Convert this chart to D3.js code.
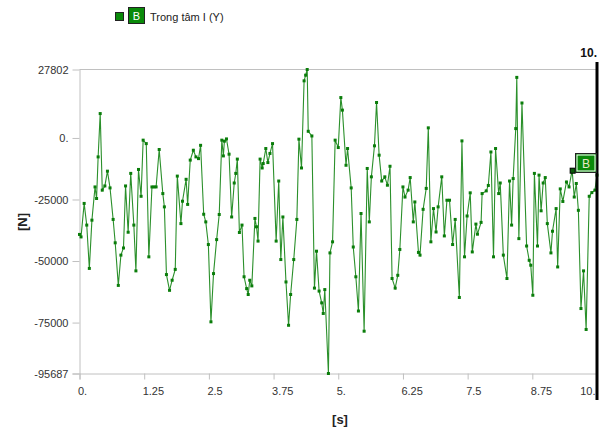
<!DOCTYPE html>
<html>
<head>
<meta charset="utf-8">
<script src="https://cdn.jsdelivr.net/npm/d3@7"></script>
<style>
body { margin: 0; background: #fff; }
svg text { font-family: "Liberation Sans", Arial, sans-serif; }
</style>
</head>
<body>
<div id="chart"></div>
<script>
// Data (time in s, force in N)
var times = [0.00,0.03,0.09,0.14,0.19,0.24,0.30,0.33,0.36,0.40,0.44,0.49,0.54,0.59,0.65,0.69,0.75,0.80,0.85,0.89,
  0.94,0.99,1.05,1.09,1.14,1.19,1.23,1.29,1.34,1.40,1.44,1.48,1.54,1.61,1.64,1.68,1.74,1.79,1.85,1.89,
  1.96,1.99,2.06,2.09,2.14,2.20,2.25,2.30,2.34,2.40,2.44,2.49,2.54,2.59,2.65,2.70,2.75,2.78,2.80,2.84,
  2.89,2.94,2.99,3.02,3.05,3.09,3.14,3.18,3.23,3.26,3.29,3.33,3.39,3.42,3.45,3.49,3.53,3.55,3.60,3.64,
  3.68,3.73,3.80,3.85,3.89,3.93,3.99,4.04,4.08,4.14,4.20,4.24,4.29,4.34,4.37,4.40,4.42,4.49,4.54,4.58,
  4.63,4.68,4.71,4.74,4.81,4.84,4.89,4.94,5.00,5.05,5.08,5.15,5.18,5.25,5.29,5.34,5.39,5.44,5.50,5.56,
  5.60,5.64,5.70,5.74,5.79,5.84,5.90,5.95,6.00,6.04,6.10,6.15,6.19,6.25,6.29,6.35,6.39,6.45,6.48,6.55,
  6.58,6.64,6.70,6.74,6.79,6.84,6.89,6.93,7.00,7.05,7.10,7.15,7.21,7.26,7.34,7.39,7.44,7.49,7.55,7.59,
  7.66,7.69,7.76,7.78,7.86,7.90,7.95,8.00,8.04,8.10,8.13,8.19,8.26,8.31,8.35,8.38,8.43,8.45,8.49,8.55,
  8.64,8.69,8.72,8.76,8.79,8.85,8.88,8.92,8.96,9.00,9.04,9.11,9.14,9.21,9.24,9.29,9.34,9.41,9.46,9.52,
  9.56,9.60,9.64,9.69,9.74,9.79,9.85,9.90,9.96,10.00];

var forces = [-39200,-40200,-26600,-35400,-53000,-33400,-19900,-24600,-7700,9900,-21200,-19500,-13500,-20300,-33100,-42600,-59900,-47600,-44700,-19500,
  -38300,-14400,-35400,-54000,-12800,-23700,-900,-2300,-48300,-19900,-19900,-19900,-4700,-22600,-28000,-55500,-61900,-57800,-53400,-15500,
  -34800,-25700,-16800,-27000,-9000,-5000,-7700,-8400,-3000,-31000,-34100,-43300,-74700,-55100,-41300,-31100,-900,-7300,-1300,-400,
  -6600,-32100,-18300,-14400,-8600,-38400,-35400,-56400,-61200,-63600,-57800,-60100,-32700,-36100,-41900,-8600,-12200,-10400,-4300,-10000,
  -6300,-2300,-41900,-17500,-49400,-32100,-58500,-76100,-63600,-49400,-33100,-500,-12200,23200,25500,27802,2700,800,-61000,-46000,
  -62200,-67000,-71300,-61600,-95687,-46700,-42200,-900,-3900,16400,11300,-11100,-4300,-20300,-44300,-56400,-70300,-30700,-78500,-12400,
  -34100,-15800,-3200,14400,-7000,-17500,-15800,-19200,-11500,-57100,-61000,-55800,-45300,-19900,-24000,-21200,-16100,-34100,-26000,-46500,
  -47600,-29000,-20500,4100,-42200,-28700,-38200,-28000,-15800,-39800,-25300,-25300,-43300,-33100,-64800,-1200,-48300,-31700,-22300,-46300,
  -35000,-39100,-34300,-22600,-21500,-19300,-5700,-48300,-4300,-22600,-18300,-47600,-57100,-17500,-35400,-16500,3800,24600,-40900,14200,
  -43900,-49700,-51700,-63900,-14400,-43900,-15100,-29600,-18300,-16100,-34800,-46700,-37900,-28700,-52400,-20700,-25800,-17900,-19900,-13100,
  -24000,-18500,-29400,-69300,-54000,-77800,-23700,-22200,-21200,-15100];

var xTicks = [0, 1.25, 2.5, 3.75, 5, 6.25, 7.5, 8.75, 10];
var xTickLabels = ["0.", "1.25", "2.5", "3.75", "5.", "6.25", "7.5", "8.75", "10."];
var yTicks = [27802, 0, -25000, -50000, -75000, -95687];
var yTickLabels = ["27802", "0.", "-25000", "-50000", "-75000", "-95687"];
var seriesName = "Trong tâm I (Y)";
var cursorTime = 10;
var markerIndex = 199;

var W = 603, H = 434;
var pLeft = 79.5, pRight = 597, pTop = 69.5, pBottom = 373.5;

var svg = d3.select("#chart").append("svg")
  .attr("width", W).attr("height", H);

var x = d3.scaleLinear().domain([0, 10]).range([pLeft, pRight]);
var y = d3.scaleLinear().domain([-95687, 27802]).range([pBottom, pTop]);

// top border line
svg.append("line")
  .attr("x1", pLeft).attr("x2", pRight)
  .attr("y1", pTop).attr("y2", pTop)
  .attr("stroke", "#c0c0c0").attr("stroke-width", 1);

// y axis
var yAxis = d3.axisLeft(y).tickValues(yTicks)
  .tickFormat(function(d, i) { return yTickLabels[i]; })
  .tickSize(7).tickPadding(4);
var gy = svg.append("g").attr("transform", "translate(" + pLeft + ",0)").call(yAxis);
gy.select(".domain").attr("stroke", "#c0c0c0").attr("d", "M0.5," + pTop + "V" + (pBottom + 6));
gy.selectAll(".tick line").attr("stroke", "#c0c0c0");
gy.selectAll("text").attr("font-size", 11).attr("fill", "#333");

// x axis, labels start at the tick
var xAxis = d3.axisBottom(x).tickValues(xTicks)
  .tickFormat(function(d, i) { return xTickLabels[i]; })
  .tickSize(6).tickPadding(8);
var gx = svg.append("g").attr("transform", "translate(0," + pBottom + ")").call(xAxis);
gx.select(".domain").attr("stroke", "#c0c0c0").attr("d", "M" + (pLeft - 7) + ",0.5H" + pRight);
gx.selectAll(".tick line").attr("stroke", "#c0c0c0");
gx.selectAll("text").attr("font-size", 11).attr("fill", "#333")
  .attr("text-anchor", "start").attr("dx", -2);
gx.selectAll(".tick:last-of-type text").attr("text-anchor", "end").attr("dx", -2);

// axis titles
svg.append("text")
  .attr("x", 340).attr("y", 424)
  .attr("text-anchor", "middle")
  .attr("font-size", 13).attr("font-weight", "bold").attr("fill", "#222")
  .text("[s]");
svg.append("text")
  .attr("transform", "translate(27,222) rotate(-90)")
  .attr("text-anchor", "middle")
  .attr("font-size", 13).attr("font-weight", "bold").attr("fill", "#222")
  .text("[N]");

// series
var data = times.map(function(t, i) { return {t: t, v: forces[i]}; });

var line = d3.line()
  .x(function(d) { return x(d.t); })
  .y(function(d) { return y(d.v); });

svg.append("path")
  .datum(data)
  .attr("d", line)
  .attr("fill", "none")
  .attr("stroke", "#2b902b")
  .attr("stroke-width", 1.1);

svg.selectAll("rect.pt")
  .data(data)
  .enter()
  .append("rect")
  .attr("class", "pt")
  .attr("x", function(d) { return x(d.t) - 1.5; })
  .attr("y", function(d) { return y(d.v) - 1.5; })
  .attr("width", 3).attr("height", 3)
  .attr("fill", "#0a7d0a");

// cursor line
svg.append("line")
  .attr("x1", x(cursorTime)).attr("x2", x(cursorTime))
  .attr("y1", 62).attr("y2", 400)
  .attr("stroke", "#000").attr("stroke-width", 3);
svg.append("text")
  .attr("x", x(cursorTime)).attr("y", 57)
  .attr("text-anchor", "end")
  .attr("font-size", 12).attr("font-weight", "bold").attr("fill", "#111")
  .text("10.");

// probe marker + tag
var mk = data[markerIndex];
svg.append("rect")
  .attr("x", x(mk.t) - 2).attr("y", y(mk.v) - 2)
  .attr("width", 5).attr("height", 5)
  .attr("fill", "#0a5a0a").attr("stroke", "#000").attr("stroke-width", 1);
svg.append("rect")
  .attr("x", 575.5).attr("y", 153.5)
  .attr("width", 21).attr("height", 19)
  .attr("fill", "#0a8a0a").attr("stroke", "#222").attr("stroke-width", 1);
svg.append("rect")
  .attr("x", 577).attr("y", 155)
  .attr("width", 18).attr("height", 16)
  .attr("fill", "none").attr("stroke", "#fff").attr("stroke-width", 1);
svg.append("text")
  .attr("x", 586).attr("y", 168)
  .attr("text-anchor", "middle")
  .attr("font-size", 12).attr("fill", "#e8e8c8")
  .text("B");

// legend
svg.append("rect")
  .attr("x", 115.5).attr("y", 12.5).attr("width", 8).attr("height", 8)
  .attr("fill", "#0a8a0a").attr("stroke", "#222");
svg.append("rect")
  .attr("x", 128.5).attr("y", 7.5).attr("width", 16).attr("height", 16)
  .attr("fill", "#0a8a0a").attr("stroke", "#222");
svg.append("text")
  .attr("x", 136.5).attr("y", 20)
  .attr("text-anchor", "middle")
  .attr("font-size", 11).attr("fill", "#fff")
  .text("B");
svg.append("text")
  .attr("x", 150).attr("y", 21)
  .attr("font-size", 11).attr("fill", "#222")
  .text(seriesName);
</script>
</body>
</html>
